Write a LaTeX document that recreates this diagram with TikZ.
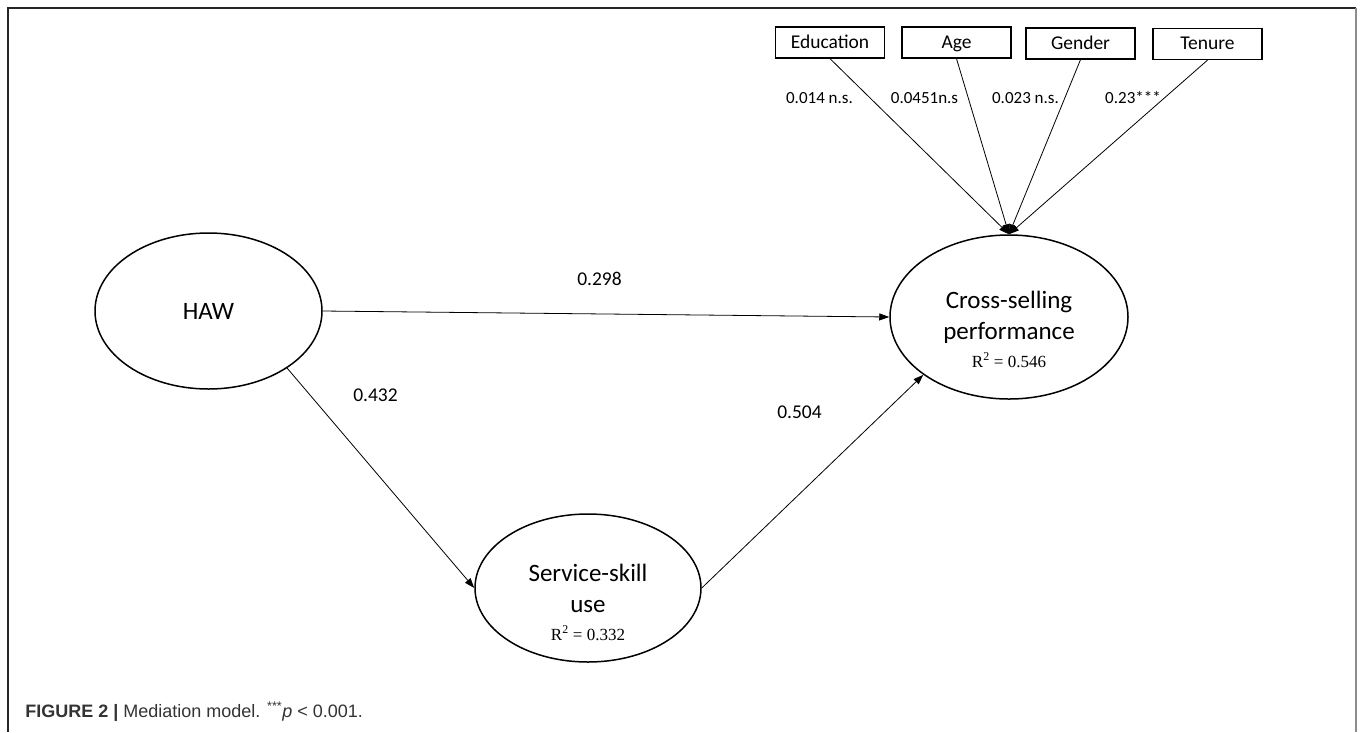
\documentclass[tikz,border=0pt]{standalone}
\usepackage{fontspec}
\setmainfont{Carlito}
\newfontfamily\rsqfont{Liberation Serif}
\newfontfamily\capfont{Liberation Sans}
\usetikzlibrary{shapes.geometric,arrows.meta}

\begin{document}
\begin{tikzpicture}[x=1pt,y=-1pt,>={Triangle[length=10pt,width=7pt]},line width=.8pt,
  latent/.style={ellipse,draw,line width=1.5pt,inner sep=0pt,align=center,font=\fontsize{25}{31}\selectfont},
  ctrlbox/.style={draw,line width=1.3pt,minimum width=109pt,minimum height=31pt,inner sep=0pt,
    text height=14pt,text depth=3pt,font=\fontsize{19.5}{23}\selectfont},
  coef/.style={anchor=base,font=\fontsize{19.5}{23}\selectfont},
  ctrlcoef/.style={anchor=base,font=\fontsize{17}{20}\selectfont},
  rsq/.style={anchor=base,font=\rsqfont\fontsize{17}{20}\selectfont}]
  \useasboundingbox (0,0) rectangle (1360,732);
  % frame
  \draw[black!85,line width=2pt] (8,732)--(8,8)--(1356,8);
  \draw[black!45,line width=2pt] (1356,8)--(1356,732);
  % constructs
  \node[latent,minimum width=227pt,minimum height=156pt] (haw) at (208.5,311) {HAW};
  \node[latent,minimum width=238pt,minimum height=164pt] (cross) at (1009,317) {Cross-selling\\performance};
  \node[latent,minimum width=226pt,minimum height=148pt] (skill) at (588,588) {Service-skill\\use};
  \node[rsq] (crossr) at (1009,367) {R\textsuperscript{2} = 0.546};
  \node[rsq] (skillr) at (588,640) {R\textsuperscript{2} = 0.332};
  % controls
  \node[ctrlbox] (edu) at (830,42.5) {Education};
  \node[ctrlbox] (age) at (956.5,42.5) {Age};
  \node[ctrlbox] (gender) at (1080.5,43.5) {Gender};
  \node[ctrlbox] (tenure) at (1207.5,44) {Tenure};
  \coordinate (tip) at (cross.north);
  \foreach \c in {edu,age,gender,tenure}
    \draw[->] (\c.south) -- (tip);
  \node[ctrlcoef] (educ) at (819.5,103) {0.014 n.s.};
  \node[ctrlcoef] (agec) at (924.5,103) {0.0451n.s};
  \node[ctrlcoef] (genderc) at (1025.5,103) {0.023 n.s.};
  \node[ctrlcoef] (tenurec) at (1133,103) {0.23***};
  % paths
  \draw[->] (haw.east) -- (cross.west);
  \draw[->] (haw.-36) -- (skill.west);
  \draw[->] (skill.east) -- (cross.214);
  \node[coef] (direct) at (599.5,285) {0.298};
  \node[coef] (apath) at (375.5,401) {0.432};
  \node[coef] (bpath) at (799.5,418) {0.504};
  % caption
  \node[anchor=base west,inner sep=0pt,font=\capfont\fontsize{18}{22}\selectfont,text=black!80] (caption) at (25,717)
    {\textbf{FIGURE 2 |} Mediation model. \textsuperscript{***}\textit{p} < 0.001.};
\end{tikzpicture}
\end{document}
